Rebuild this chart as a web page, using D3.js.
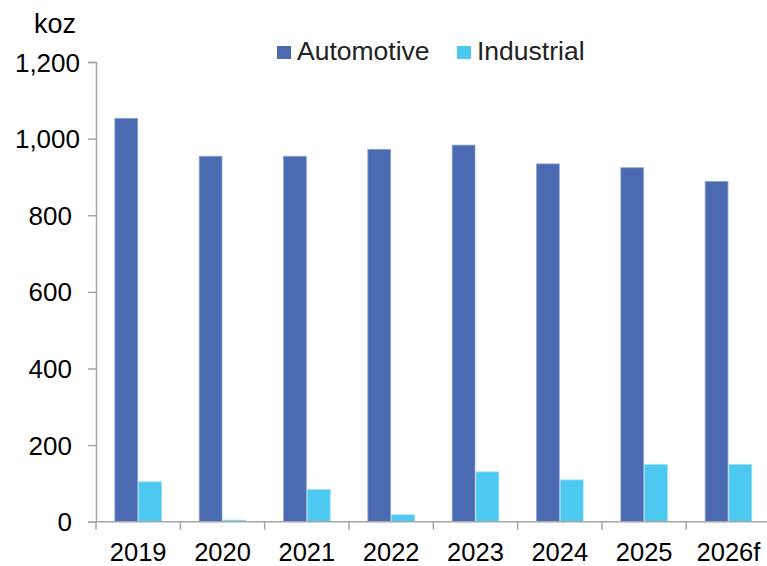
<!DOCTYPE html>
<html><head><meta charset="utf-8">
<script src="https://cdn.jsdelivr.net/npm/d3@7"></script>
<style>body{margin:0;background:#fff}svg{display:block}</style>
</head><body>
<script>
const categories = ["2019","2020","2021","2022","2023","2024","2025","2026f"];
const seriesNames = ["Automotive","Industrial"];
const automotive = [1053, 954, 954, 972, 983, 934, 924, 888];
const industrial = [104, 4, 84, 18, 130, 109, 149, 149];
const yTicks = [0, 200, 400, 600, 800, 1000, 1200];
const colors = ["#4A6AB2", "#4BC9F0"];
const strokes = ["#8DA2D6", "#8FDDF6"];

const W = 767, H = 566;
const svg = d3.select("body").append("svg").attr("width", W).attr("height", H);
const font = "'Liberation Sans', Arial, sans-serif";
const fs = 26;

const x0 = 96, x1 = 96 + 8 * 84.33;
const x = d3.scaleBand().domain(categories).range([x0, x1]).paddingInner(0).paddingOuter(0);
const y = d3.scaleLinear().domain([0, 1200]).range([521.7, 62]);
const groupW = 47.6;
const xs = d3.scaleBand().domain(seriesNames).range([0, groupW]).padding(0);

const data = categories.map((c, i) => ({cat: c, vals: [automotive[i], industrial[i]]}));

const g = svg.append("g");
g.selectAll("g.grp").data(data).join("g")
  .attr("transform", d => `translate(${x(d.cat) + (x.bandwidth() - groupW) / 2},0)`)
  .selectAll("rect").data(d => d.vals.map((v, k) => ({v, k})))
  .join("rect")
  .attr("x", d => xs(seriesNames[d.k]) + 0.5)
  .attr("width", xs.bandwidth() - 1)
  .attr("y", d => y(d.v))
  .attr("height", d => y(0) - y(d.v))
  .attr("fill", d => colors[d.k])
  .attr("stroke", d => strokes[d.k])
  .attr("stroke-width", 0.8);

// Y axis
const yAxis = svg.append("g").attr("transform", `translate(${x0},0)`)
  .call(d3.axisLeft(y).tickValues(yTicks).tickSize(8).tickPadding(16).tickFormat(d3.format(",")));
yAxis.select(".domain").attr("stroke", "#A6A6A6").attr("stroke-width", 1.5);
yAxis.selectAll(".tick line").attr("stroke", "#A6A6A6").attr("stroke-width", 1.5);
yAxis.selectAll(".tick text")
  .attr("font-family", font).attr("font-size", fs).attr("fill", "#000")
  .attr("x", d => (d >= 1000 ? -16 : -24)).attr("dy", "0.35em");

// X axis
const xAxis = svg.append("g").attr("transform", `translate(0,${y(0)})`);
xAxis.append("line").attr("x1", x0).attr("x2", x1).attr("y1", 0).attr("y2", 0)
  .attr("stroke", "#A6A6A6").attr("stroke-width", 1.5);
xAxis.selectAll("line.tk").data(categories).join("line").attr("class", "tk")
  .attr("x1", d => x(d)).attr("x2", d => x(d)).attr("y1", 0).attr("y2", 8)
  .attr("stroke", "#A6A6A6").attr("stroke-width", 1.5);
xAxis.selectAll("text").data(categories).join("text")
  .attr("x", d => x(d) + x.bandwidth() / 2).attr("y", 39.5)
  .attr("text-anchor", "middle").attr("font-family", font).attr("font-size", 25.5).attr("fill", "#000")
  .text(d => d);

// unit label
svg.append("text").attr("x", 34).attr("y", 33).attr("font-family", font).attr("font-size", fs + 1)
  .attr("fill", "#000").text("koz");

// legend
const legX = [277, 457];
const leg = svg.append("g");
seriesNames.forEach((s, k) => {
  leg.append("rect").attr("x", legX[k]).attr("y", 46).attr("width", 14).attr("height", 13).attr("fill", colors[k]);
  leg.append("text").attr("x", legX[k] + 20).attr("y", 60).attr("font-family", font).attr("font-size", fs + 0.5)
    .attr("fill", "#222").text(s);
});
</script>
</body></html>
